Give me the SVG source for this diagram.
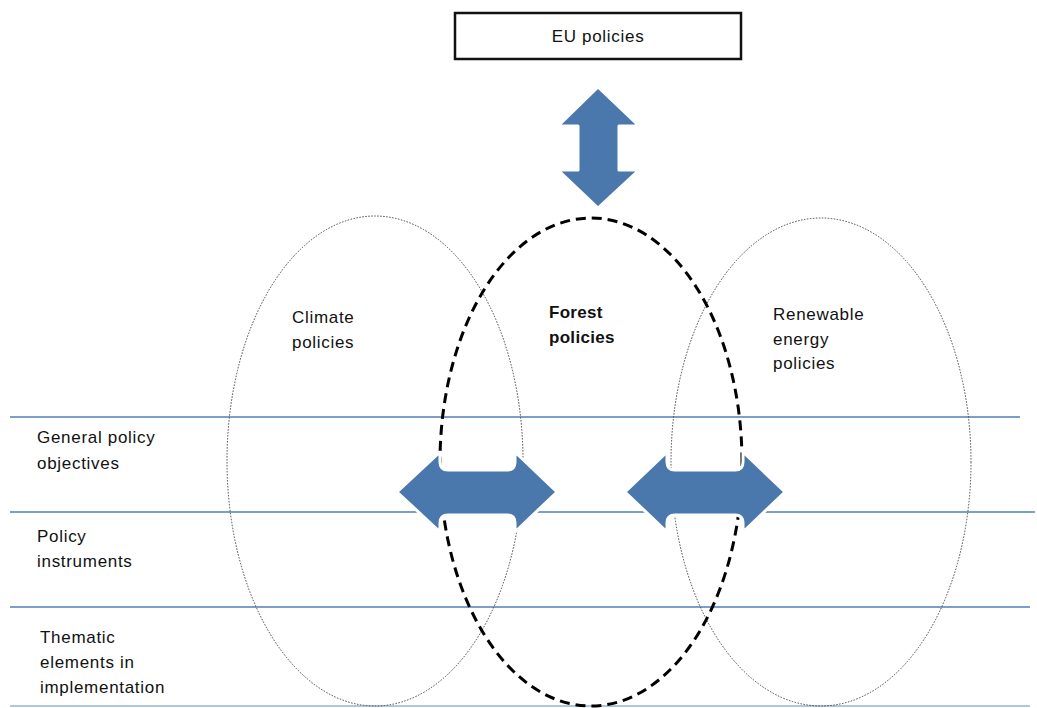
<svg xmlns="http://www.w3.org/2000/svg" width="1037" height="708" viewBox="0 0 1037 708">
<style>
.t{font-family:"Liberation Sans","Open Sans",Arial,sans-serif;font-size:17px;letter-spacing:0.7px;fill:#111}
.b{font-weight:bold;letter-spacing:0.3px}
.band{stroke:#4f7fb8;stroke-width:1.6;fill:none}
.thin{fill:none;stroke:#444;stroke-width:1;stroke-dasharray:1.5 1.5}
.thick{fill:none;stroke:#000;stroke-width:3;stroke-dasharray:10 6}
.arr{fill:#4a78ad;stroke:#fff;stroke-width:3;stroke-linejoin:round}
</style>
<rect width="1037" height="708" fill="#fff"/>
<g id="bands">
<line class="band" x1="10" y1="417" x2="1020" y2="417"/>
<line class="band" x1="10" y1="512" x2="1035" y2="512"/>
<line class="band" x1="10" y1="607" x2="1030" y2="607"/>
<line class="band" x1="10" y1="706" x2="1030" y2="706" stroke-width="2.5" opacity="0.6"/>
</g>
<g id="climate">
<ellipse class="thin" cx="375" cy="461" rx="148" ry="245"/>
<text class="t" x="292" y="323">Climate</text>
<text class="t" x="292" y="348">policies</text>
</g>
<g id="renewable">
<ellipse class="thin" cx="821" cy="462" rx="150" ry="244"/>
<text class="t" x="773" y="320">Renewable</text>
<text class="t" x="773" y="345">energy</text>
<text class="t" x="773" y="369">policies</text>
</g>
<g id="forest">
<ellipse class="thick" cx="591" cy="462" rx="151" ry="244"/>
<text class="t b" x="549" y="318">Forest</text>
<text class="t b" x="549" y="343">policies</text>
</g>
<g id="eu">
<rect x="455" y="13" width="286" height="46" fill="#fff" stroke="#111" stroke-width="2.5"/>
<text class="t" x="598" y="42" text-anchor="middle">EU policies</text>
</g>
<g id="levels">
<text class="t" x="37" y="443">General policy</text>
<text class="t" x="37" y="469">objectives</text>
<text class="t" x="37" y="542">Policy</text>
<text class="t" x="37" y="567">instruments</text>
<text class="t" x="40" y="643">Thematic</text>
<text class="t" x="40" y="668">elements in</text>
<text class="t" x="40" y="693">implementation</text>
</g>
<g id="connectors">
<path class="arr" stroke="none" d="M598 87 L639 126 L619 126 L619 170 L639 170 L598 208 L558 170 L578 170 L578 126 L558 126 Z"/>
<path class="arr" d="M397 492 L440 452 L440 462 Q440 470 448 470 L507 470 Q515 470 515 462 L515 452 L557 492 L515 532 L515 523 Q515 515 507 515 L448 515 Q440 515 440 523 L440 532 Z"/>
<path class="arr" d="M625 492 L667 452 L667 462 Q667 470 675 470 L735 470 Q743 470 743 462 L743 452 L785 492 L743 532 L743 523 Q743 515 735 515 L675 515 Q667 515 667 523 L667 532 Z"/>
</g>
</svg>
